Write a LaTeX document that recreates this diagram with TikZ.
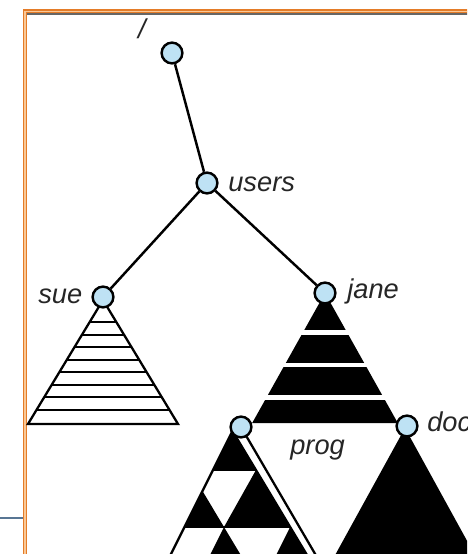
\documentclass[tikz,border=0pt]{standalone}
\usepackage{fontspec}
\setmainfont{Liberation Sans}
\definecolor{nodeblue}{RGB}{190,226,244}
\definecolor{frameorange}{RGB}{228,124,40}
\definecolor{framelight}{RGB}{250,200,150}
\definecolor{linkblue}{RGB}{88,118,148}
\begin{document}
\begin{tikzpicture}[x=0.02cm,y=-0.02cm,
  dirnode/.style={circle,draw=black,fill=nodeblue,line width=1.4pt,minimum size=11.8pt,inner sep=0pt},
  link/.style={line width=1.4pt,draw=black},
  outl/.style={line width=1.3pt,draw=black,line join=miter},
  lbl/.style={font=\fontsize{15.5}{18}\selectfont\itshape,inner sep=0pt,text=black!85,anchor=base west},
]
\useasboundingbox (0,0) rectangle (467,554);
\clip (0,0) rectangle (467,554);
\fill[white] (0,0) rectangle (467,554);
% frame
\draw[frameorange,line width=2.4pt] (25,600) -- (25,11.3) -- (520,11.3);
\draw[framelight,line width=0.6pt] (25,600) -- (25,11.3) -- (520,11.3);
\draw[black!60,line width=1pt] (27.4,14.1) -- (520,14.1);
\draw[linkblue,line width=1.2pt] (0,518) -- (23,518);
% sue subtree
\begin{scope}
  \clip (103,300) -- (28,424) -- (178,424) -- cycle;
  \foreach \yy in {322.3,335,347.3,360,372.3,385,397.3,410}
    \draw[line width=1.25pt] (20,\yy) -- (190,\yy);
\end{scope}
\draw[outl] (103,300) -- (28,424) -- (178,424) -- cycle;
% jane subtree
\fill[black] (325,293) -- (252.2,423) -- (397.8,423) -- cycle;
\foreach \a/\b in {330/334.5, 362.5/367, 395/399.5}
  \fill[white] (240,\a) rectangle (410,\b);
% prog subtree
\fill (232.5,431) -- (213,470) -- (256,470) -- cycle;
\fill (256,470) -- (224,527) -- (290.2,527) -- cycle;
\fill (202.5,491) -- (184.5,527) -- (224,527) -- cycle;
\fill (224,527) -- (187.5,600) -- (267.8,600) -- cycle;
\fill (290.2,527) -- (253.7,600) -- (334,600) -- cycle;
\draw[outl] (148,600) -- (232.5,431) -- (334,600);
\draw[outl] (213,470) -- (256,470);
\draw[outl] (184.5,527) -- (290.2,527);
\coordinate (pc) at (241,427);
\coordinate (pend) at (342,600);
\draw[outl] (pc) -- (pend);
% doc subtree
\fill (405,428) -- (310.4,600) -- (499.6,600) -- cycle;
% directory nodes
\node[dirnode] (root) at (172,53) {};
\node[dirnode] (users) at (207,183) {};
\node[dirnode] (sue) at (103,297) {};
\node[dirnode] (jane) at (325,293) {};
\node[dirnode] (prog) at (241,427) {};
\node[dirnode] (doc) at (407,426) {};
\draw[link] (root) -- (users);
\draw[link] (users) -- (sue);
\draw[link] (users) -- (jane);
% labels
\node[lbl,anchor=center] (lroot) at (142,29) {/};
\node[lbl] (lusers) at (228,191) {users};
\node[lbl] (lsue) at (38,303) {sue};
\node[lbl] (ljane) at (347,298) {jane};
\node[lbl] (lprog) at (290,454) {prog};
\node[lbl] (ldoc) at (427,431) {doc};
\end{tikzpicture}
\end{document}
